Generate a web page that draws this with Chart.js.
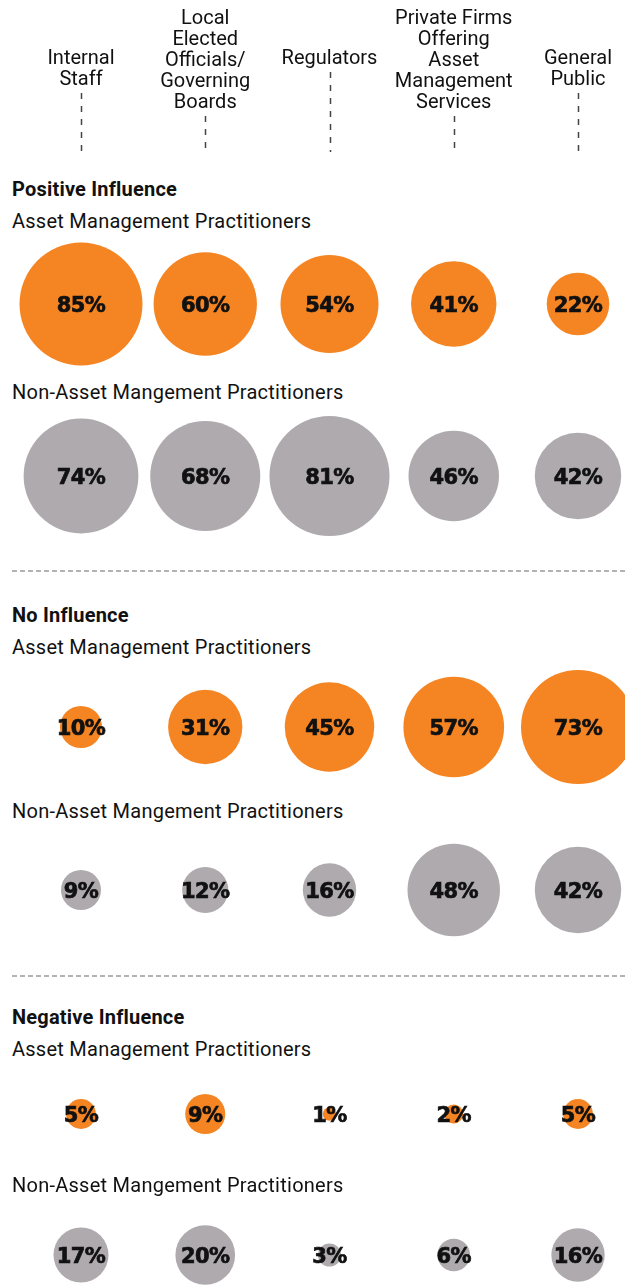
<!DOCTYPE html>
<html>
<head>
<meta charset="utf-8">
<script src="https://cdn.jsdelivr.net/npm/chart.js@4.4.1/dist/chart.umd.min.js"></script>
<style>
    body { margin: 0; width: 625px; height: 1285px; overflow: hidden; position: relative; background: #fff; }
    canvas, .head, .sub, .sep { position: absolute; left: 0; }
    .head, .sub { left: 12px; font-family: Roboto, sans-serif; font-size: 20px; line-height: 20px; color: #111; white-space: nowrap; letter-spacing: 0.25px; }
    .head { font-weight: bold; font-size: 20px; letter-spacing: 0.2px; }
    .sep { left: 12px; width: 613px; height: 2px; background: repeating-linear-gradient(to right, #b3b3b3 0 5px, transparent 5px 8px); }
</style>
</head>
<body>
<canvas id="header" width="625" height="160" style="top:0"></canvas>

<div class="head" style="top:179px">Positive Influence</div>
<div class="sub" style="top:211px">Asset Management Practitioners</div>
<canvas id="row0" width="625" height="130" style="top:239px"></canvas>
<div class="sub" style="top:382px">Non-Asset Mangement Practitioners</div>
<canvas id="row1" width="625" height="130" style="top:411px"></canvas>

<div class="sep" style="top:570px"></div>

<div class="head" style="top:605px">No Influence</div>
<div class="sub" style="top:637px">Asset Management Practitioners</div>
<canvas id="row2" width="625" height="130" style="top:662px"></canvas>
<div class="sub" style="top:801px">Non-Asset Mangement Practitioners</div>
<canvas id="row3" width="625" height="130" style="top:825px"></canvas>

<div class="sep" style="top:975px"></div>

<div class="head" style="top:1007px">Negative Influence</div>
<div class="sub" style="top:1039px">Asset Management Practitioners</div>
<canvas id="row4" width="625" height="130" style="top:1049px"></canvas>
<div class="sub" style="top:1175px">Non-Asset Mangement Practitioners</div>
<canvas id="row5" width="625" height="130" style="top:1190px"></canvas>

<script>
// column headers (one entry per line)
var columns = [
    ['Internal', 'Staff'],
    ['Local', 'Elected', 'Officials/', 'Governing', 'Boards'],
    ['Regulators'],
    ['Private Firms', 'Offering', 'Asset', 'Management', 'Services'],
    ['General', 'Public']
];

// % of respondents
var positiveAM = [85, 60, 54, 41, 22];
var positiveNonAM = [74, 68, 81, 46, 42];
var noAM = [10, 31, 45, 57, 73];
var noNonAM = [9, 12, 16, 48, 42];
var negativeAM = [5, 9, 1, 2, 5];
var negativeNonAM = [17, 20, 3, 6, 16];

var ORANGE = '#f58523';
var GREY = '#aeaaae';

// first column centre and spacing, in px
var colFirst = 81;
var colStep = 124.25;
var xMin = -colFirst / colStep;
var xMax = xMin + 625 / colStep;

// bubble area proportional to the value
function bubbleRadius(v) {
    return 6.67 * Math.sqrt(v);
}

var xScale = { type: 'linear', min: xMin, max: xMax, display: false };

// writes "NN%" on top of every bubble
var valueLabels = {
    id: 'valueLabels',
    afterDatasetsDraw: function (chart) {
        var ctx = chart.ctx;
        var meta = chart.getDatasetMeta(0);
        var values = chart.data.datasets[0].values;
        ctx.save();
        ctx.font = 'bold 21px "DejaVu Sans", sans-serif';
        ctx.letterSpacing = '-0.6px';
        ctx.fillStyle = '#111';
        ctx.strokeStyle = '#111';
        ctx.lineWidth = 0.7;
        ctx.textAlign = 'center';
        ctx.textBaseline = 'alphabetic';
        meta.data.forEach(function (el, i) {
            ctx.fillText(values[i] + '%', el.x, el.y + 7.5);
            ctx.strokeText(values[i] + '%', el.x, el.y + 7.5);
        });
        ctx.restore();
    }
};

// column titles and the dashed leader lines under them
var columnHeads = {
    id: 'columnHeads',
    afterDraw: function (chart) {
        var ctx = chart.ctx;
        var x = chart.scales.x;
        ctx.save();
        ctx.font = '20px Roboto, sans-serif';
        ctx.fillStyle = '#111';
        ctx.textAlign = 'center';
        columns.forEach(function (lines, i) {
            var px = x.getPixelForValue(i);
            var first = 3 - Math.floor((lines.length - 1) / 2);
            var last = 0;
            lines.forEach(function (t, j) {
                var cy = 17 + (first - 1 + j) * 21;
                if (lines.length < 5) cy -= 2;
                ctx.fillText(t, px, cy + 7);
                last = cy;
            });
            ctx.strokeStyle = '#444';
            ctx.lineWidth = 1.5;
            ctx.setLineDash([6, 7]);
            ctx.beginPath();
            ctx.moveTo(Math.round(px) + 0.5, last + 15);
            ctx.lineTo(Math.round(px) + 0.5, 152);
            ctx.stroke();
        });
        ctx.restore();
    }
};

var baseOptions = {
    responsive: false,
    animation: false,
    events: [],
    layout: { padding: 0, autoPadding: false },
    plugins: { legend: { display: false }, tooltip: { enabled: false } },
    scales: { x: xScale, y: { min: -1, max: 1, display: false } }
};

new Chart(document.getElementById('header'), {
    type: 'bubble',
    data: { datasets: [] },
    options: baseOptions,
    plugins: [columnHeads]
});

function makeRow(id, values, color) {
    new Chart(document.getElementById(id), {
        type: 'bubble',
        data: {
            datasets: [{
                values: values,
                data: values.map(function (v, i) {
                    return { x: i, y: 0, r: bubbleRadius(v) };
                }),
                backgroundColor: color,
                borderWidth: 0,
                hoverRadius: 0,
                clip: false
            }]
        },
        options: baseOptions,
        plugins: [valueLabels]
    });
}

makeRow('row0', positiveAM, ORANGE);
makeRow('row1', positiveNonAM, GREY);
makeRow('row2', noAM, ORANGE);
makeRow('row3', noNonAM, GREY);
makeRow('row4', negativeAM, ORANGE);
makeRow('row5', negativeNonAM, GREY);
</script>
</body>
</html>
